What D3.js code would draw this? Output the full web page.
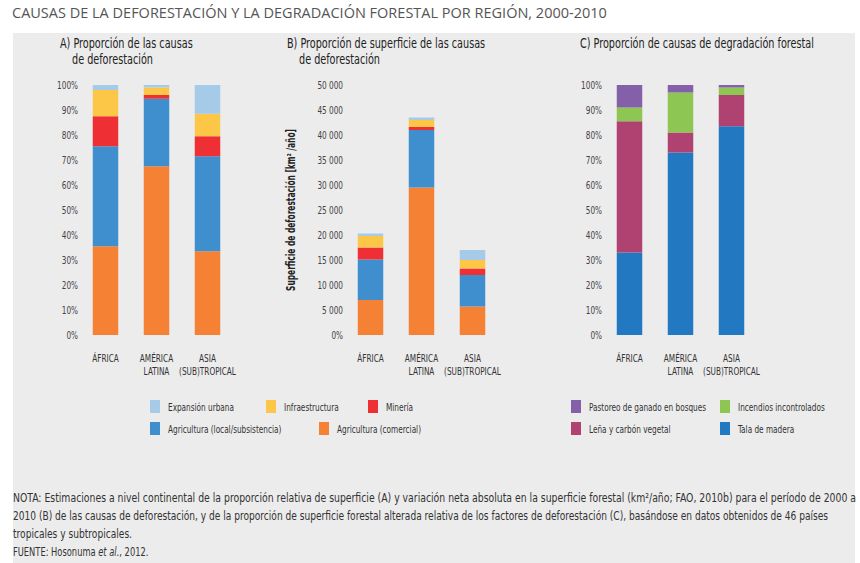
<!DOCTYPE html>
<html><head><meta charset="utf-8">
<script src="https://cdn.jsdelivr.net/npm/d3@7"></script>
<style>
body{margin:0;background:#fff}
text{font-family:"Liberation Sans Narrow","DejaVu Sans Condensed",sans-serif;fill:#333}
</style></head><body>
<svg id="c" width="860" height="563"></svg>
<script>
var regions = ["ÁFRICA", "AMÉRICA|LATINA", "ASIA|(SUB)TROPICAL"];
var defKeys = ["comercial", "local", "mineria", "infra", "urbana"];
var defLabels = ["Agricultura (comercial)", "Agricultura (local/subsistencia)", "Minería", "Infraestructura", "Expansión urbana"];
var defColors = ["#f48134", "#3f8fcf", "#ee3035", "#fcc647", "#a6cbe9"];
var shareA = [
  [35.5, 40, 12, 10.5, 2],
  [67.5, 27, 1.5, 3, 1],
  [33.5, 38, 8, 9, 11.5]
];
var areaB = [
  [7000, 8100, 2400, 2300, 500],
  [29500, 11500, 600, 1400, 500],
  [5700, 6300, 1300, 1700, 2000]
];
var degKeys = ["tala", "lena", "incendios", "pastoreo"];
var degLabels = ["Tala de madera", "Leña y carbón vegetal", "Incendios incontrolados", "Pastoreo de ganado en bosques"];
var degColors = ["#2279c1", "#b04271", "#8dc653", "#8460a8"];
var shareC = [
  [33, 52.5, 5.5, 9],
  [73, 8, 16, 3],
  [83.5, 12.5, 3, 1]
];
var pctTicks = [0,10,20,30,40,50,60,70,80,90,100];
var areaTicks = [0,5000,10000,15000,20000,25000,30000,35000,40000,45000,50000];

var svg = d3.select("#c");
svg.append("rect").attr("x",13).attr("y",33).attr("width",842).attr("height",530).attr("fill","#ececec");
svg.append("text").attr("x",12).attr("y",18).style("font-family","'Open Sans',sans-serif")
  .style("font-size","14.5px").style("fill","#555").text("CAUSAS DE LA DEFORESTACIÓN Y LA DEGRADACIÓN FORESTAL POR REGIÓN, 2000-2010");

// squeeze text to look like the condensed face of the original
function condense(sel, f){
  sel.each(function(){
    var w = this.getComputedTextLength();
    d3.select(this).attr("textLength", w * f).attr("lengthAdjust", "spacingAndGlyphs");
  });
}

function panel(x0, data, keys, colors, maxV, ticks, fmt, titles, tx){
  var y = d3.scaleLinear().domain([0, maxV]).range([335, 85]);
  var x = d3.scaleBand().domain(regions).range([x0, x0 + 153]).paddingInner(0.5).paddingOuter(0.25);
  var g = svg.append("g");
  titles.forEach(function(t, i){
    g.append("text").attr("x", tx + (i ? 12 : 0)).attr("y", 48 + i*16).style("font-size","14.5px").style("fill","#222").text(t);
  });
  var rows = data.map(function(d){ var o = {}; keys.forEach(function(k,i){ o[k] = d[i]; }); return o; });
  var stack = d3.stack().keys(keys)(rows);
  stack.forEach(function(s, si){
    g.selectAll(null).data(s).enter().append("rect")
      .attr("x", function(d,i){ return x(regions[i]); })
      .attr("width", x.bandwidth())
      .attr("y", function(d){ return y(d[1]); })
      .attr("height", function(d){ return y(d[0]) - y(d[1]); })
      .attr("fill", colors[si]);
  });
  var ax = g.append("g").attr("transform","translate(" + (x0 - 2) + ",0)")
    .call(d3.axisLeft(y).tickValues(ticks).tickFormat(fmt).tickSize(0).tickPadding(0));
  ax.select(".domain").remove();
  ax.selectAll("text").style("font-size","11px").style("fill","#444");
  regions.forEach(function(r){
    r.split("|").forEach(function(line, li){
      g.append("text").attr("x", x(r) + x.bandwidth()/2).attr("y", 362 + li*13)
        .attr("text-anchor","middle").style("font-size","11px").style("fill","#333").text(line);
    });
  });
  condense(g.selectAll("text"), 0.74);
}

panel(80, shareA, defKeys, defColors, 100, pctTicks, function(d){ return d + "%"; },
  ["A) Proporción de las causas", "de deforestación"], 60);
panel(345, areaB, defKeys, defColors, 50000, areaTicks, function(d){ return d === 0 ? "0%" : d3.format(",")(d).replace(",", " "); },
  ["B) Proporción de superficie de las causas", "de deforestación"], 287);
panel(604, shareC, degKeys, degColors, 100, pctTicks, function(d){ return d + "%"; },
  ["C) Proporción de causas de degradación forestal"], 580);

var yl = svg.append("text").attr("transform","translate(295,210) rotate(-90)").attr("text-anchor","middle")
  .style("font-size","11.5px").style("font-weight","bold").style("fill","#222")
  .text("Superficie de deforestación [km² /año]");
condense(yl, 0.72);

var lg = svg.append("g");
var legend = [
  [150, 407, 4], [266, 407, 3], [368, 407, 2], [150, 429, 1], [319, 429, 0]
];
legend.forEach(function(l){
  lg.append("rect").attr("x", l[0]).attr("y", l[1]-7).attr("width",10).attr("height",13).attr("fill", defColors[l[2]]);
  lg.append("text").attr("x", l[0]+18).attr("y", l[1]+4).style("font-size","11px").text(defLabels[l[2]]);
});
var legendC = [[571, 407, 3], [720, 407, 2], [571, 429, 1], [720, 429, 0]];
legendC.forEach(function(l){
  lg.append("rect").attr("x", l[0]).attr("y", l[1]-7).attr("width",10).attr("height",13).attr("fill", degColors[l[2]]);
  lg.append("text").attr("x", l[0]+18).attr("y", l[1]+4).style("font-size","11px").text(degLabels[l[2]]);
});
condense(lg.selectAll("text"), 0.74);

var note = svg.append("g").style("font-size","12.5px");
note.append("text").attr("x",13).attr("y",502).attr("textLength",843).attr("lengthAdjust","spacingAndGlyphs")
  .text("NOTA: Estimaciones a nivel continental de la proporción relativa de superficie (A) y variación neta absoluta en la superficie forestal (km²/año; FAO, 2010b) para el período de 2000 a");
note.append("text").attr("x",13).attr("y",520).attr("textLength",815).attr("lengthAdjust","spacingAndGlyphs")
  .text("2010 (B) de las causas de deforestación, y de la proporción de superficie forestal alterada relativa de los factores de deforestación (C), basándose en datos obtenidos de 46 países");
note.append("text").attr("x",13).attr("y",538).attr("textLength",119).attr("lengthAdjust","spacingAndGlyphs")
  .text("tropicales y subtropicales.");
var f = note.append("text").attr("transform","translate(13,556) scale(0.74,1)");
f.append("tspan").text("FUENTE: Hosonuma ");
f.append("tspan").style("font-style","italic").text("et al.");
f.append("tspan").text(", 2012.");
</script>
</body></html>
